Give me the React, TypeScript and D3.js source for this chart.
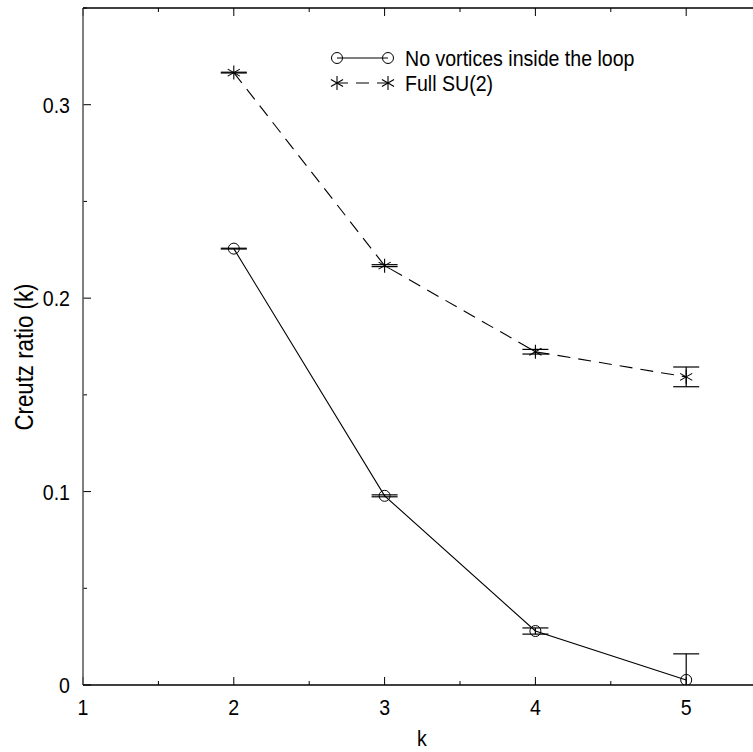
import React from "react";
import * as d3 from "d3";

const kValues = [2, 3, 4, 5];
const noVortex = [0.2256, 0.0978, 0.0279, 0.0026];
const noVortexErr = [0.0002, 0.0005, 0.0016, 0.0135];
const fullSU2 = [0.3166, 0.2168, 0.1723, 0.1593];
const fullSU2Err = [0.0002, 0.0005, 0.0012, 0.0051];
const xTicks = [1, 2, 3, 4, 5, 6];
const xTickLabels = ["1", "2", "3", "4", "5"];
const xMinor = [1.5, 2.5, 3.5, 4.5, 5.5];
const yTicks = [0, 0.1, 0.2, 0.3];
const yTickLabels = ["0", "0.1", "0.2", "0.3"];
const yMinor = [0.05, 0.15, 0.25, 0.35];
const legendLabels = ["No vortices inside the loop", "Full SU(2)"];

const W = 753;
const H = 752;
const left = 83;
const top = 8;
const bottom = 685;

const x = d3.scaleLinear().domain([1, 6]).range([left, left + 5 * 150.8]);
const y = d3.scaleLinear().domain([0, 0.35]).range([bottom, top]);

const font = "'Liberation Sans', Arial, Helvetica, sans-serif";
const SX = 0.89;

function T({
  x: tx,
  y: ty,
  anchor = "start",
  size = 22,
  children,
}: {
  x: number;
  y: number;
  anchor?: string;
  size?: number;
  children: React.ReactNode;
}) {
  return (
    <text
      transform={`translate(${tx},${ty}) scale(${SX},1)`}
      textAnchor={anchor}
      fontFamily={font}
      fontSize={size}
      fill="#000"
    >
      {children}
    </text>
  );
}

function Circle({ cx, cy }: { cx: number; cy: number }) {
  return <circle cx={cx} cy={cy} r={5.5} fill="none" stroke="#000" strokeWidth={1} />;
}

function Star({ cx, cy }: { cx: number; cy: number }) {
  const r = 7;
  const a = Math.PI / 6;
  const dx = r * Math.cos(a);
  const dy = r * Math.sin(a);
  return (
    <g stroke="#000" strokeWidth={1.1}>
      <line x1={cx} y1={cy - r} x2={cx} y2={cy + r} />
      <line x1={cx - dx} y1={cy - dy} x2={cx + dx} y2={cy + dy} />
      <line x1={cx - dx} y1={cy + dy} x2={cx + dx} y2={cy - dy} />
    </g>
  );
}

function ErrorBar({ k, v, e }: { k: number; v: number; e: number }) {
  const cx = x(k);
  const hw = 13;
  const y1 = y(v + e);
  const y2 = y(v - e);
  return (
    <g stroke="#000" strokeWidth={1.2}>
      <line x1={cx} y1={y1} x2={cx} y2={y2} />
      <line x1={cx - hw} y1={y1} x2={cx + hw} y2={y1} />
      <line x1={cx - hw} y1={y2} x2={cx + hw} y2={y2} />
    </g>
  );
}

export default function App() {
  const line = d3
    .line<number>()
    .x((_, i) => x(kValues[i]))
    .y((d) => y(d));

  return (
    <svg width={W} height={H} style={{ position: "absolute", left: 0, top: 0, background: "#fff" }}>
      <defs>
        <clipPath id="plot">
          <rect x={left} y={top} width={W} height={bottom - top} />
        </clipPath>
      </defs>
      <rect x={0} y={0} width={W} height={H} fill="#fff" />

      {/* ticks */}
      <g stroke="#000" strokeWidth={1}>
        {xTicks.map((t) => (
          <g key={"xt" + t}>
            <line x1={x(t)} y1={bottom} x2={x(t)} y2={bottom - 8} />
            <line x1={x(t)} y1={top} x2={x(t)} y2={top + 8} />
          </g>
        ))}
        {xMinor.map((t) => (
          <g key={"xm" + t}>
            <line x1={x(t)} y1={bottom} x2={x(t)} y2={bottom - 4} />
            <line x1={x(t)} y1={top} x2={x(t)} y2={top + 4} />
          </g>
        ))}
        {yTicks.map((t) => (
          <line key={"yt" + t} x1={left} y1={y(t)} x2={left + 8} y2={y(t)} />
        ))}
        {yMinor.map((t) => (
          <line key={"ym" + t} x1={left} y1={y(t)} x2={left + 4} y2={y(t)} />
        ))}
      </g>

      {/* axes frame */}
      <line x1={left} y1={top} x2={left} y2={bottom} stroke="#555" strokeWidth={1.5} />
      <line x1={left} y1={top} x2={W} y2={top} stroke="#000" strokeWidth={1.5} />
      <line x1={left} y1={bottom} x2={W} y2={bottom} stroke="#000" strokeWidth={1.5} />

      {/* tick labels */}
      {xTickLabels.map((lab, i) => (
        <T key={"xl" + lab} x={x(xTicks[i])} y={bottom + 30} anchor="middle">
          {lab}
        </T>
      ))}
      {yTickLabels.map((lab, i) => (
        <T key={"yl" + lab} x={left - 13} y={y(yTicks[i]) + 8} anchor="end">
          {lab}
        </T>
      ))}

      {/* axis titles */}
      <T x={422} y={746} anchor="middle">
        k
      </T>
      <text
        transform={`translate(33,${357}) rotate(-90) scale(${SX},1)`}
        textAnchor="middle"
        fontFamily={font}
        fontSize={25}
      >
        Creutz ratio (k)
      </text>

      {/* data */}
      <g clipPath="url(#plot)">
        <path d={line(noVortex) || ""} fill="none" stroke="#000" strokeWidth={1.1} />
        <path
          d={line(fullSU2) || ""}
          fill="none"
          stroke="#000"
          strokeWidth={1.1}
          strokeDasharray="13,8"
        />
        {kValues.map((k, i) => (
          <g key={"a" + k}>
            <ErrorBar k={k} v={noVortex[i]} e={noVortexErr[i]} />
            <Circle cx={x(k)} cy={y(noVortex[i])} />
          </g>
        ))}
        {kValues.map((k, i) => (
          <g key={"b" + k}>
            <ErrorBar k={k} v={fullSU2[i]} e={fullSU2Err[i]} />
            <Star cx={x(k)} cy={y(fullSU2[i])} />
          </g>
        ))}
      </g>

      {/* legend */}
      <line x1={337} y1={58} x2={388} y2={58} stroke="#000" strokeWidth={1.1} />
      <Circle cx={337} cy={58} />
      <Circle cx={388} cy={58} />
      <T x={405} y={66}>{legendLabels[0]}</T>
      <line x1={337} y1={83} x2={388} y2={83} stroke="#000" strokeWidth={1.1} strokeDasharray="13,8" strokeDashoffset={-19} />
      <Star cx={337} cy={83} />
      <Star cx={388} cy={83} />
      <T x={405} y={91}>{legendLabels[1]}</T>
    </svg>
  );
}
